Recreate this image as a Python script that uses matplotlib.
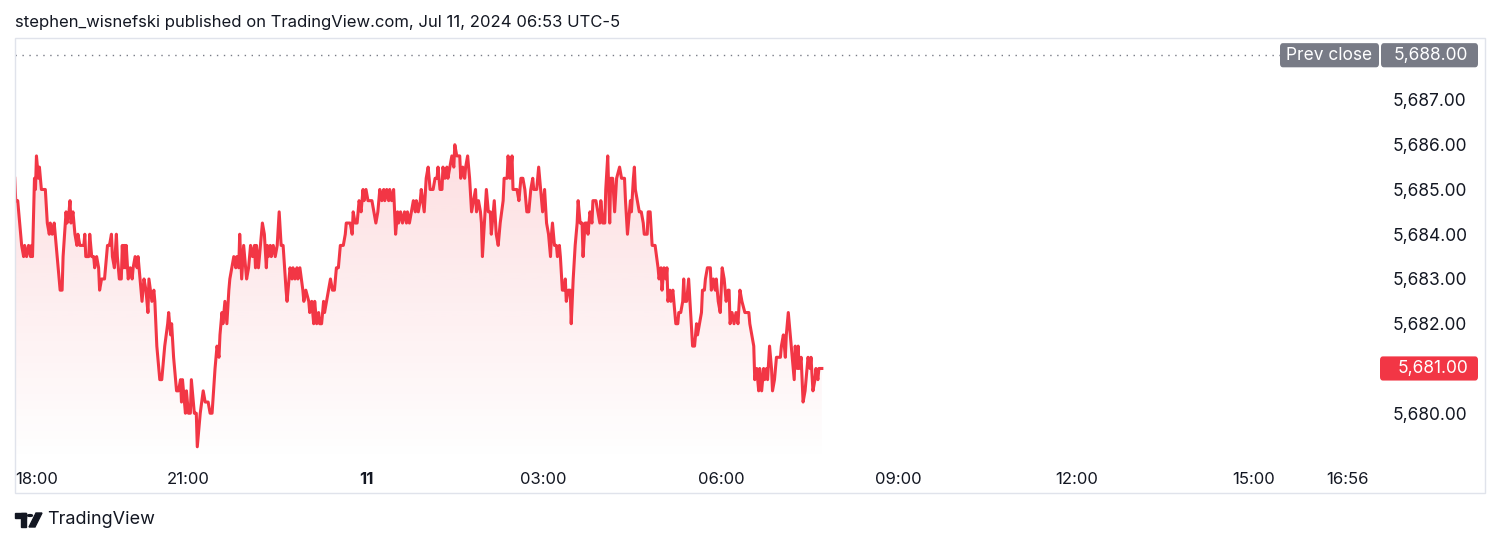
import numpy as np
import matplotlib
matplotlib.use("Agg")
import matplotlib.pyplot as plt
from matplotlib.patches import Rectangle, Circle, Polygon, FancyBboxPatch
from matplotlib.transforms import blended_transform_factory

plt.rcParams['font.family'] = ['Inter', 'DejaVu Sans']

# minutes after 18:00 (Jul 10) and ES price
minutes = [4, 5, 7, 11, 13, 14, 16, 18, 20, 21, 22, 24, 25, 26, 28, 29, 30, 31, 35, 37,
           39, 40, 42, 44, 45, 47, 50, 52, 53, 56, 57, 59, 60, 61, 63, 65, 67, 68, 70, 72,
           74, 75, 76, 79, 80, 82, 84, 85, 87, 89, 90, 92, 95, 97, 98, 100, 102, 103, 105, 107,
           108, 110, 112, 113, 114, 115, 116, 117, 119, 121, 123, 124, 126, 128, 129, 131, 133, 134, 135, 137,
           139, 140, 143, 145, 146, 148, 149, 151, 153, 155, 156, 159, 160, 162, 163, 165, 166, 168, 170, 172,
           173, 174, 175, 177, 178, 180, 182, 183, 185, 186, 188, 189, 191, 192, 195, 197, 200, 202, 204, 207,
           208, 209, 211, 212, 214, 215, 217, 219, 221, 222, 224, 226, 228, 229, 231, 232, 234, 236, 237, 239,
           241, 243, 245, 247, 248, 249, 251, 253, 255, 257, 259, 260, 261, 263, 264, 266, 268, 270, 272, 274,
           276, 279, 280, 282, 283, 285, 286, 288, 290, 291, 293, 296, 297, 299, 302, 303, 305, 307, 308, 310,
           312, 313, 315, 317, 318, 320, 322, 324, 326, 328, 330, 332, 334, 337, 339, 340, 344, 346, 347, 349,
           351, 353, 355, 357, 358, 360, 362, 366, 368, 370, 372, 374, 376, 378, 379, 381, 383, 384, 386, 388,
           390, 392, 393, 395, 397, 399, 401, 402, 404, 406, 408, 410, 411, 413, 415, 416, 419, 421, 423, 425,
           428, 430, 432, 433, 435, 437, 438, 440, 442, 443, 445, 447, 449, 450, 452, 455, 456, 458, 460, 461,
           463, 465, 467, 469, 471, 472, 474, 476, 477, 478, 480, 482, 484, 486, 487, 490, 492, 494, 496, 499,
           500, 503, 504, 506, 508, 509, 513, 515, 517, 519, 521, 523, 525, 527, 529, 530, 533, 535, 537, 539,
           541, 543, 545, 547, 548, 549, 551, 553, 554, 556, 557, 559, 561, 562, 563, 565, 567, 568, 570, 572,
           574, 575, 577, 579, 580, 582, 584, 585, 587, 589, 590, 593, 595, 597, 598, 600, 602, 603, 605, 607,
           608, 610, 612, 614, 617, 619, 622, 623, 625, 626, 628, 629, 631, 632, 633, 635, 637, 639, 641, 642,
           645, 646, 648, 650, 653, 656, 657, 659, 660, 662, 664, 665, 666, 668, 669, 671, 672, 674, 676, 677,
           679, 681, 682, 683, 685, 687, 689, 691, 693, 695, 696, 698, 700, 701, 703, 704, 706, 709, 710, 712,
           714, 715, 717, 719, 721, 723, 725, 727, 728, 729, 731, 733, 735, 737, 739, 741, 744, 748, 749, 751,
           753, 754, 756, 758, 759, 761, 763, 764, 766, 767, 769, 771, 772, 774, 776, 780, 781, 783, 785, 786,
           788, 790, 792, 794, 795, 797, 798, 799, 801, 802, 803, 805, 807, 808, 810, 811, 813, 815, 816, 818,
           819, 822]

price = [5685.25, 5684.75, 5684.75, 5683.75, 5683.50, 5683.75, 5683.50, 5683.75, 5683.50, 5683.75,
         5683.50, 5685.25, 5685.00, 5685.75, 5685.25, 5685.50, 5685.25, 5685.00, 5685.00, 5684.25,
         5684.00, 5684.25, 5684.00, 5684.25, 5684.00, 5683.50, 5682.75, 5682.75, 5683.50, 5684.50,
         5684.25, 5684.50, 5684.75, 5684.25, 5684.50, 5684.00, 5683.75, 5684.00, 5683.75, 5683.75,
         5683.75, 5684.00, 5683.50, 5683.50, 5684.00, 5683.50, 5683.50, 5683.25, 5683.50, 5683.25,
         5682.75, 5683.00, 5683.00, 5683.50, 5683.75, 5683.75, 5684.00, 5683.50, 5683.25, 5684.00,
         5683.50, 5683.00, 5683.00, 5683.75, 5683.25, 5683.75, 5683.25, 5683.75, 5683.00, 5683.25,
         5683.00, 5683.25, 5683.50, 5683.25, 5683.50, 5683.00, 5682.50, 5682.75, 5683.00, 5682.75,
         5682.25, 5683.00, 5682.50, 5682.75, 5682.50, 5681.50, 5681.25, 5680.75, 5680.75, 5681.25,
         5681.50, 5682.00, 5682.25, 5681.75, 5682.00, 5681.25, 5681.00, 5680.50, 5680.50, 5680.75,
         5680.25, 5680.75, 5680.50, 5680.00, 5680.50, 5680.00, 5680.00, 5680.75, 5680.25, 5680.00,
         5680.00, 5679.25, 5679.75, 5680.00, 5680.50, 5680.25, 5680.25, 5680.00, 5680.00, 5681.00,
         5681.25, 5681.50, 5681.25, 5681.75, 5682.25, 5682.00, 5682.50, 5682.00, 5682.75, 5683.00,
         5683.25, 5683.50, 5683.25, 5683.50, 5683.25, 5684.00, 5683.00, 5683.75, 5683.50, 5683.00,
         5683.25, 5683.75, 5683.50, 5683.75, 5683.25, 5683.75, 5683.25, 5683.75, 5684.25, 5684.00,
         5683.25, 5683.75, 5683.50, 5683.75, 5683.50, 5683.75, 5683.50, 5683.75, 5684.50, 5683.75,
         5683.75, 5682.75, 5682.50, 5683.00, 5683.25, 5683.00, 5683.25, 5683.00, 5683.25, 5683.00,
         5683.25, 5682.75, 5682.50, 5682.75, 5682.50, 5682.25, 5682.50, 5682.00, 5682.50, 5682.00,
         5682.25, 5682.00, 5682.00, 5682.50, 5682.25, 5682.50, 5682.75, 5683.00, 5682.75, 5682.75,
         5683.25, 5683.25, 5683.75, 5683.75, 5684.00, 5684.25, 5684.25, 5684.00, 5684.50, 5684.25,
         5684.25, 5684.75, 5684.50, 5685.00, 5684.75, 5685.00, 5684.75, 5684.75, 5684.50, 5684.25,
         5684.50, 5685.00, 5684.75, 5685.00, 5684.75, 5685.00, 5684.75, 5685.00, 5684.75, 5685.00,
         5684.00, 5684.50, 5684.25, 5684.50, 5684.25, 5684.50, 5684.25, 5684.50, 5684.25, 5684.50,
         5684.75, 5684.50, 5684.75, 5684.50, 5684.75, 5685.00, 5684.50, 5685.25, 5685.50, 5685.00,
         5685.00, 5685.25, 5685.25, 5685.50, 5685.00, 5685.00, 5685.50, 5685.25, 5685.50, 5685.25,
         5685.50, 5685.75, 5685.50, 5686.00, 5685.75, 5685.75, 5685.25, 5685.50, 5685.25, 5685.50,
         5685.75, 5685.25, 5684.50, 5684.75, 5685.00, 5684.50, 5684.75, 5684.50, 5684.25, 5683.50,
         5684.25, 5685.00, 5684.50, 5684.50, 5684.00, 5684.75, 5684.00, 5683.75, 5684.25, 5684.75,
         5685.25, 5685.25, 5685.75, 5685.25, 5685.75, 5685.00, 5685.00, 5684.75, 5685.25, 5685.25,
         5685.00, 5684.50, 5684.50, 5685.00, 5685.25, 5685.00, 5685.00, 5685.50, 5685.00, 5684.50,
         5685.00, 5684.25, 5684.00, 5683.50, 5684.00, 5684.25, 5683.75, 5683.75, 5683.50, 5683.75,
         5683.50, 5682.75, 5682.75, 5683.00, 5682.50, 5682.75, 5682.75, 5682.00, 5683.00, 5683.75,
         5684.25, 5684.75, 5684.25, 5684.25, 5683.50, 5684.25, 5684.25, 5684.00, 5684.50, 5684.25,
         5684.75, 5684.75, 5684.50, 5684.25, 5684.75, 5684.25, 5684.25, 5685.00, 5685.75, 5684.25,
         5685.25, 5685.25, 5684.50, 5685.25, 5685.50, 5685.25, 5685.25, 5684.75, 5684.00, 5684.25,
         5684.75, 5684.50, 5685.25, 5685.50, 5685.00, 5684.75, 5684.50, 5684.50, 5684.25, 5684.00,
         5684.00, 5684.50, 5684.50, 5683.75, 5683.75, 5683.25, 5683.00, 5683.25, 5682.75, 5683.25,
         5683.00, 5683.25, 5682.50, 5682.75, 5682.50, 5682.75, 5682.50, 5682.00, 5682.00, 5682.25,
         5682.25, 5682.50, 5683.00, 5682.50, 5682.50, 5683.00, 5682.25, 5681.50, 5681.50, 5682.00,
         5681.75, 5682.00, 5682.25, 5682.75, 5682.75, 5683.00, 5683.25, 5683.25, 5682.75, 5683.00,
         5682.75, 5683.00, 5682.50, 5682.25, 5683.25, 5683.00, 5682.50, 5682.75, 5682.75, 5682.00,
         5682.25, 5682.00, 5682.25, 5682.00, 5682.75, 5682.50, 5682.25, 5682.25, 5682.00, 5681.75,
         5681.50, 5680.75, 5681.00, 5680.50, 5681.00, 5680.50, 5681.00, 5680.75, 5681.00, 5680.75,
         5681.50, 5681.00, 5680.50, 5680.75, 5681.25, 5681.25, 5681.50, 5681.75, 5681.25, 5681.75,
         5682.25, 5681.75, 5681.25, 5680.75, 5681.50, 5681.00, 5681.50, 5681.00, 5681.25, 5680.75,
         5680.25, 5680.50, 5681.00, 5681.25, 5681.00, 5681.25, 5680.50, 5680.75, 5681.00, 5680.75,
         5681.00, 5681.00]

tick_minutes = [180, 360, 540, 720, 900, 1080, 1260]
tick_labels = ["21:00", "11", "03:00", "06:00", "09:00", "12:00", "15:00"]
first_label = "18:00"
last_label = "16:56"
last_minute = 1376
price_ticks = [5680, 5682, 5683, 5684, 5685, 5686, 5687]  # 5681 is covered by the last-price tag
prev_close = 5688.0
last_price = price[-1]
title = "stephen_wisnefski published on TradingView.com, Jul 11, 2024 06:53 UTC-5"

RED = "#f23645"
TXT = "#131722"
GREY = "#787b86"
BORDER = "#e0e3eb"

W, H = 1500, 544
fig = plt.figure(figsize=(W / 100, H / 100), dpi=100)

def fx(px):
    return px / W

def fy(py):
    return 1 - py / H

# outer frame of the chart widget
fig.patches.append(Rectangle((fx(15), fy(493)), fx(1485) - fx(15), fy(38) - fy(493),
                             transform=fig.transFigure, fill=False, edgecolor=BORDER, lw=1))

ax = fig.add_axes([fx(15), fy(462), fx(1380) - fx(15), fy(38) - fy(462)])
xmin, xmax = 4.26, 1387.7
ymin, ymax = 5678.91, 5688.385

# area fill with vertical gradient
poly = ax.fill_between(minutes, price, ymin, color="none", lw=0)
grad = np.zeros((256, 1, 4))
grad[..., 0:3] = matplotlib.colors.to_rgb(RED)
grad[..., 3] = np.linspace(0.22, 0.0, 256).reshape(-1, 1)
im = ax.imshow(grad, extent=[xmin, xmax, ymin, ymax], aspect="auto", origin="upper", zorder=1)
im.set_clip_path(poly.get_paths()[0], transform=ax.transData)

ax.plot(minutes, price, color=RED, lw=2.2, zorder=3)

# previous close dotted line
ax.axhline(prev_close, color=GREY, lw=1, linestyle=(0, (1, 4)), zorder=2)

ax.set_xlim(xmin, xmax)
ax.set_ylim(ymin, ymax)
for s in ax.spines.values():
    s.set_visible(False)

# time axis
ax.set_xticks([xmin] + tick_minutes + [last_minute])
ax.set_xticklabels([first_label] + tick_labels + [last_label])
ax.tick_params(axis="x", length=0, pad=7, labelsize=12, labelcolor=TXT)
xl = ax.get_xticklabels()
xl[0].set_ha("left")
xl[-1].set_ha("right")
xl[2].set_fontweight("bold")

# price axis
ax.yaxis.tick_right()
ax.set_yticks(price_ticks)
ax.set_yticklabels([f"{v:,.2f}" for v in price_ticks])
ax.tick_params(axis="y", length=0, pad=9, labelsize=12.5, labelcolor=TXT)

bt = blended_transform_factory(fig.transFigure, ax.transData)
hh = 0.27

def tag(x0, x1, y, color):
    ax.add_patch(FancyBboxPatch((fx(x0), y - hh), fx(x1) - fx(x0), 2 * hh,
                                boxstyle="round,pad=0,rounding_size=0.002",
                                transform=bt, fc=color, ec="none", clip_on=False, zorder=5,
                                mutation_aspect=40))

tag(1380, 1478, last_price, RED)
tag(1381, 1478, prev_close, GREY)
tag(1280, 1379, prev_close, GREY)
ax.text(fx(1468), last_price, f"{last_price:,.2f}", transform=bt, ha="right", va="center",
        color="white", fontsize=12.5, zorder=6, clip_on=False)
ax.text(fx(1468), prev_close, f"{prev_close:,.2f}", transform=bt, ha="right", va="center",
        color="white", fontsize=12.5, zorder=6, clip_on=False)
ax.text(fx(1329), prev_close, "Prev close", transform=bt, ha="center", va="center",
        color="white", fontsize=12.5, zorder=6, clip_on=False)

# header and footer
fig.text(fx(15), fy(22), title, ha="left", va="center", fontsize=12, color=TXT)
fig.text(fx(47), fy(520), "TradingView", ha="left", va="center", fontsize=13, color=TXT)
fig.patches.append(Rectangle((fx(15), fy(518)), fx(26) - fx(15), fy(513) - fy(518),
                             transform=fig.transFigure, color=TXT))
fig.patches.append(Rectangle((fx(21), fy(527)), fx(26) - fx(21), fy(513) - fy(527),
                             transform=fig.transFigure, color=TXT))
fig.patches.append(Circle((fx(30), fy(515.5)), 2.5 / W, transform=fig.transFigure, color=TXT))
fig.patches.append(Polygon([(fx(36), fy(513)), (fx(42), fy(513)), (fx(35), fy(527)), (fx(29), fy(527))],
                           transform=fig.transFigure, color=TXT))

fig.savefig("out.png", dpi=100)
